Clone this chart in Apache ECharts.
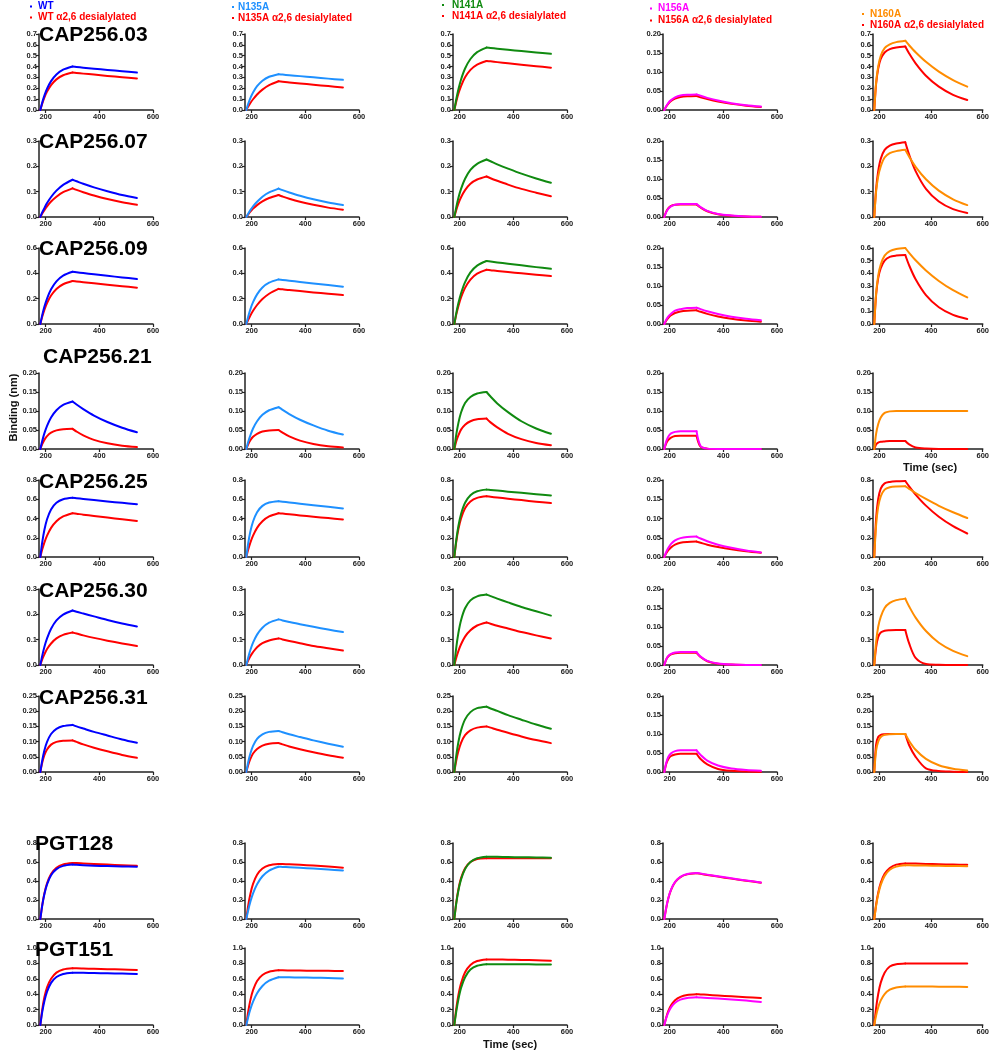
<!DOCTYPE html>
<html><head><meta charset="utf-8">
<script src="https://cdn.jsdelivr.net/npm/echarts@6/dist/echarts.min.js"></script>
<style>html,body{margin:0;padding:0;background:#fff}#c{width:992px;height:1055px}</style>
</head><body><div id="c"></div>
<script>
// ---------------- DATA ----------------
const TIMES = [180,187,195,205,220,240,265,300,315,340,380,430,485,540];
const X_TICKS = [200,400,600];
const ANTIBODIES = ['CAP256.03','CAP256.07','CAP256.09','CAP256.21','CAP256.25','CAP256.30','CAP256.31','PGT128','PGT151'];
const VARIANTS = ['WT','N135A','N141A','N156A','N160A'];
const DESIALYLATED_SUFFIX = ' \u03b12,6 desialylated';
// each antibody: [WT, WT desial, N135A, N135A desial, N141A, N141A desial, N156A, N156A desial, N160A, N160A desial]
const CAP256_03 = [
 [0,.068,.132,.196,.266,.327,.371,.400,.396,.390,.381,.369,.357,.345],
 [0,.058,.114,.169,.229,.282,.320,.345,.341,.335,.326,.314,.302,.290],
 [0,.056,.109,.161,.219,.270,.306,.330,.326,.321,.312,.301,.289,.278],
 [0,.032,.064,.099,.143,.188,.229,.265,.261,.254,.245,.232,.220,.208],
 [0,.097,.189,.281,.382,.470,.533,.575,.571,.565,.555,.543,.530,.517],
 [0,.076,.149,.221,.301,.370,.419,.452,.448,.441,.430,.417,.404,.390],
 [0,.010,.019,.026,.033,.038,.040,.041,.0373,.0319,.0248,.0180,.0128,.009],
 [0,.009,.017,.024,.030,.034,.036,.037,.0336,.0287,.0223,.0161,.0114,.008],
 [0,.25,.40,.50,.57,.605,.625,.638,.596,.532,.444,.354,.276,.215],
 [0,.24,.38,.47,.53,.56,.575,.585,.521,.430,.316,.215,.140,.092]
];
const CAP256_07 = [
 [0,.018,.035,.055,.079,.104,.127,.147,.141,.131,.117,.102,.087,.075],
 [0,.014,.027,.042,.061,.080,.098,.113,.107,.098,.085,.071,.058,.048],
 [0,.013,.027,.042,.060,.080,.097,.112,.106,.097,.084,.070,.057,.047],
 [0,.010,.021,.033,.047,.062,.075,.087,.081,.072,.060,.048,.037,.029],
 [0,.038,.075,.111,.151,.186,.210,.227,.220,.208,.191,.171,.152,.135],
 [0,.027,.053,.078,.106,.131,.148,.160,.153,.143,.128,.111,.096,.082],
 [0,.013,.022,.028,.032,.034,.034,.034,.026,.016,.008,.004,.0015,.0005],
 [0,.014,.023,.029,.032,.033,.033,.033,.025,.015,.007,.003,.001,.0004],
 [0,.10,.16,.20,.235,.252,.26,.265,.238,.198,.149,.104,.070,.047],
 [0,.11,.18,.23,.265,.282,.29,.295,.246,.181,.111,.061,.031,.016]
];
const CAP256_09 = [
 [0,.070,.136,.201,.274,.337,.382,.412,.408,.402,.392,.380,.368,.355],
 [0,.057,.112,.166,.225,.277,.314,.339,.336,.330,.321,.310,.298,.287],
 [0,.059,.116,.172,.234,.288,.326,.352,.348,.342,.332,.320,.307,.295],
 [0,.033,.067,.104,.150,.197,.239,.277,.274,.268,.260,.249,.239,.228],
 [0,.084,.164,.243,.331,.407,.461,.497,.493,.486,.476,.463,.449,.436],
 [0,.072,.141,.209,.285,.350,.397,.428,.425,.419,.411,.400,.389,.378],
 [0,.011,.020,.027,.035,.039,.042,.043,.0392,.0335,.0262,.0192,.0136,.0097],
 [0,.009,.016,.023,.029,.033,.035,.036,.0322,.0267,.0198,.0136,.009,.006],
 [0,.24,.38,.47,.54,.575,.592,.60,.562,.503,.423,.340,.267,.21],
 [0,.23,.36,.44,.50,.53,.54,.545,.463,.353,.228,.132,.072,.04]
];
const CAP256_21 = [
 [0,.021,.041,.061,.083,.102,.116,.125,.117,.105,.088,.071,.056,.044],
 [0,.013,.024,.034,.043,.049,.052,.053,.046,.036,.024,.015,.0086,.005],
 [0,.019,.036,.054,.073,.090,.102,.110,.103,.092,.077,.062,.048,.038],
 [0,.012,.023,.032,.040,.046,.049,.050,.043,.033,.022,.013,.007,.004],
 [0,.037,.068,.096,.121,.137,.146,.150,.138,.120,.097,.073,.054,.04],
 [0,.020,.036,.051,.064,.073,.078,.080,.070,.057,.040,.026,.016,.01],
 [0,.020,.033,.041,.045,.047,.047,.047,.008,.001,0,0,0,0],
 [0,.015,.024,.030,.034,.035,.035,.035,.006,.001,0,0,0,0],
 [0,.040,.065,.083,.095,.099,.100,.100,.100,.100,.100,.100,.100,.100],
 [0,.012,.017,.019,.020,.021,.021,.021,.012,.004,.001,0,0,0]
];
const CAP256_25 = [
 [0,.151,.280,.392,.494,.563,.600,.615,.611,.603,.592,.577,.563,.548],
 [0,.077,.150,.222,.303,.372,.422,.455,.450,.440,.427,.410,.392,.375],
 [0,.143,.264,.369,.466,.531,.566,.580,.575,.567,.554,.538,.522,.505],
 [0,.077,.150,.222,.303,.372,.422,.455,.451,.444,.432,.419,.404,.39],
 [0,.172,.319,.446,.563,.641,.683,.700,.696,.690,.679,.667,.653,.640],
 [0,.155,.287,.401,.507,.577,.614,.630,.625,.618,.606,.591,.575,.56],
 [0,.013,.024,.034,.043,.049,.052,.053,.048,.041,.032,.024,.017,.012],
 [0,.010,.018,.025,.032,.037,.039,.040,.037,.032,.026,.020,.015,.011],
 [0,.33,.52,.63,.70,.725,.733,.735,.708,.665,.603,.532,.465,.405],
 [0,.40,.60,.71,.765,.78,.787,.79,.734,.649,.534,.418,.320,.244]
];
const CAP256_30 = [
 [0,.036,.071,.105,.143,.176,.199,.215,.210,.203,.192,.178,.164,.152],
 [0,.022,.042,.063,.085,.105,.119,.128,.124,.117,.107,.096,.085,.075],
 [0,.030,.059,.088,.120,.147,.167,.180,.176,.170,.161,.151,.140,.13],
 [0,.018,.035,.051,.070,.086,.097,.105,.101,.095,.086,.075,.066,.057],
 [0,.068,.126,.177,.224,.255,.271,.278,.272,.262,.247,.229,.212,.195],
 [0,.028,.055,.082,.112,.137,.156,.168,.163,.155,.144,.130,.117,.105],
 [0,.015,.024,.029,.033,.034,.034,.034,.022,.011,.004,.001,0,0],
 [0,.014,.023,.028,.031,.032,.032,.032,.021,.010,.003,.001,0,0],
 [0,.09,.15,.19,.225,.245,.256,.262,.231,.187,.134,.088,.056,.035],
 [0,.07,.11,.128,.135,.137,.138,.138,.085,.028,.004,.001,0,0]
];
const CAP256_31 = [
 [0,.038,.071,.099,.125,.142,.151,.155,.150,.143,.132,.120,.107,.096],
 [0,.030,.055,.074,.090,.099,.103,.104,.099,.091,.080,.068,.056,.047],
 [0,.033,.061,.086,.109,.124,.132,.135,.131,.124,.115,.104,.093,.083],
 [0,.023,.043,.061,.076,.087,.093,.095,.091,.084,.075,.065,.055,.047],
 [0,.053,.098,.137,.173,.197,.210,.215,.209,.201,.187,.172,.156,.142],
 [0,.037,.068,.096,.121,.137,.146,.150,.146,.139,.129,.117,.105,.095],
 [0,.024,.040,.049,.055,.057,.057,.057,.045,.030,.017,.009,.005,.003],
 [0,.021,.034,.042,.046,.048,.048,.048,.034,.020,.008,.003,.001,0],
 [0,.07,.10,.115,.122,.124,.125,.125,.102,.073,.043,.022,.0105,.005],
 [0,.09,.115,.122,.124,.125,.125,.125,.088,.050,.012,.003,.001,0]
];
const PGT128 = [
 [0,.141,.261,.365,.461,.525,.559,.573,.570,.566,.561,.557,.553,.550],
 [0,.145,.268,.376,.474,.540,.575,.590,.589,.585,.579,.573,.566,.560],
 [0,.093,.181,.269,.366,.450,.510,.550,.548,.545,.539,.531,.521,.510],
 [0,.143,.264,.369,.466,.531,.566,.580,.579,.576,.570,.562,.552,.540],
 [0,.161,.298,.417,.527,.600,.639,.655,.655,.654,.652,.650,.648,.645],
 [0,.17,.31,.43,.535,.60,.632,.640,.640,.640,.640,.640,.640,.640],
 [0,.119,.221,.309,.390,.444,.473,.485,.478,.467,.449,.428,.406,.385],
 [0,.116,.218,.306,.387,.441,.470,.482,.475,.464,.446,.425,.403,.382],
 [0,.139,.257,.360,.454,.518,.551,.565,.565,.564,.562,.560,.558,.555],
 [0,.15,.275,.38,.475,.537,.572,.585,.584,.583,.580,.577,.573,.570]
];
const PGT151 = [
 [0,.167,.309,.433,.547,.623,.663,.680,.680,.678,.675,.672,.668,.662],
 [0,.20,.36,.49,.60,.68,.72,.736,.736,.734,.730,.725,.720,.714],
 [0,.105,.204,.303,.412,.507,.575,.620,.620,.619,.617,.614,.610,.605],
 [0,.175,.323,.452,.571,.650,.692,.710,.710,.709,.707,.705,.703,.700],
 [0,.17,.33,.48,.62,.72,.77,.79,.79,.79,.789,.788,.787,.785],
 [0,.21,.388,.543,.685,.780,.831,.852,.852,.851,.848,.845,.840,.835],
 [0,.089,.164,.229,.289,.330,.351,.360,.357,.352,.343,.332,.317,.300],
 [0,.098,.182,.255,.322,.366,.390,.400,.397,.392,.383,.373,.361,.350],
 [0,.123,.228,.319,.402,.458,.488,.500,.500,.500,.499,.498,.497,.495],
 [0,.22,.40,.55,.68,.76,.79,.80,.80,.80,.80,.80,.80,.80]
];
const ROW_DATA = [CAP256_03, CAP256_07, CAP256_09, CAP256_21, CAP256_25, CAP256_30, CAP256_31, PGT128, PGT151];
// y-axis max / step per row (columns WT..N160A)
const Y_MAX = [
 [0.7,0.7,0.7,0.2,0.7],[0.3,0.3,0.3,0.2,0.3],[0.6,0.6,0.6,0.2,0.6],
 [0.2,0.2,0.2,0.2,0.2],[0.8,0.8,0.8,0.2,0.8],[0.3,0.3,0.3,0.2,0.3],
 [0.25,0.25,0.25,0.2,0.25],[0.8,0.8,0.8,0.8,0.8],[1,1,1,1,1]
];
const Y_STEP = [
 [0.1,0.1,0.1,0.05,0.1],[0.1,0.1,0.1,0.05,0.1],[0.2,0.2,0.2,0.05,0.1],
 [0.05,0.05,0.05,0.05,0.05],[0.2,0.2,0.2,0.05,0.2],[0.1,0.1,0.1,0.05,0.1],
 [0.05,0.05,0.05,0.05,0.05],[0.2,0.2,0.2,0.2,0.2],[0.2,0.2,0.2,0.2,0.2]
];

// ---------------- STYLE / LAYOUT ----------------
const COLORS = ['#0000FF','#1E90FF','#108A10','#FF00FF','#FF8C00'];
const RED = '#FF0000';
const FONT = "'Liberation Sans', Arial, sans-serif";
const AXIS_COLOR = '#222';
const COL_LEFT = [39,245,453,663,873];
const PLOT_W = 114;
const ROW_TOP = [34,141,248,373,480,589,696,843,948];
const ROW_BOTTOM = [110,217,324,449,557,665,772,919,1025];
const TITLE_POS = [[39,37],[39,143.5],[39,250.5],[43,358.5],[39,483.5],[39,592.5],[39,700],[35,846],[35,951.5]];
const LEGEND_POS = [[30,38,6.5,17.5],[232,238,7,18],[442,452,5,16],[650,658,8.5,20.5],[862,870,14,25]];

const grids=[], xAxes=[], yAxes=[], series=[];
let k=0;
for(let r=0;r<9;r++){
  for(let c=0;c<5;c++){
    grids.push({left:COL_LEFT[c], top:ROW_TOP[r], width:PLOT_W, height:ROW_BOTTOM[r]-ROW_TOP[r], containLabel:false});
    const lab = {fontSize:7.5, fontWeight:'bold', color:AXIS_COLOR, fontFamily:FONT};
    xAxes.push({gridIndex:k, type:'value', min:175, max:600,
      axisLine:{show:true, onZero:false, lineStyle:{color:AXIS_COLOR, width:1.5}},
      axisTick:{show:true, customValues:X_TICKS, length:3, lineStyle:{color:AXIS_COLOR, width:1.2}},
      axisLabel:Object.assign({customValues:X_TICKS, margin:3}, lab),
      splitLine:{show:false}});
    const step = Y_STEP[r][c];
    const dec = step < 0.1 ? 2 : 1;
    yAxes.push({gridIndex:k, type:'value', min:0, max:Y_MAX[r][c], interval:step,
      axisLine:{show:true, onZero:false, lineStyle:{color:AXIS_COLOR, width:1.5}},
      axisTick:{show:true, length:3, lineStyle:{color:AXIS_COLOR, width:1.2}},
      axisLabel:Object.assign({margin:2, formatter:v=>v.toFixed(dec)}, lab),
      splitLine:{show:false}});
    const rows = ROW_DATA[r];
    const curves = [
      {name: VARIANTS[c]+DESIALYLATED_SUFFIX, vals: rows[2*c+1], color: RED},
      {name: VARIANTS[c], vals: rows[2*c], color: COLORS[c]}
    ];
    curves.forEach((cv,ci)=>{
      const pts = TIMES.map((t,i)=>[t, cv.vals[i]]);
      const split = TIMES.indexOf(300);
      [pts.slice(0,split+1), pts.slice(split)].forEach(seg=>{
        series.push({type:'line', name:cv.name, xAxisIndex:k, yAxisIndex:k, data:seg,
          symbol:'none', smooth:0.3, silent:true, animation:false, z:2+ci,
          lineStyle:{color:cv.color, width:2, cap:'round', join:'round'}, itemStyle:{color:cv.color}});
      });
    });
    k++;
  }
}

const graphics = [];
ANTIBODIES.forEach((name,r)=>{
  graphics.push({type:'text', left:TITLE_POS[r][0], top:TITLE_POS[r][1]-12, z:10,
    style:{text:name, font:"bold 21px "+FONT, fill:'#000'}});
});
VARIANTS.forEach((v,c)=>{
  const p = LEGEND_POS[c];
  [[v, COLORS[c], p[2]], [v+DESIALYLATED_SUFFIX, RED, p[3]]].forEach(([txt,col,yc])=>{
    graphics.push({type:'rect', shape:{x:p[0], y:yc-1, width:2, height:2}, style:{fill:col}});
    graphics.push({type:'text', x:p[1], y:yc, style:{text:txt, font:"bold 10px "+FONT, fill:col, verticalAlign:'middle'}});
  });
});
graphics.push({type:'text', x:13.5, y:407.5, rotation:Math.PI/2,
  style:{text:'Binding (nm)', font:"bold 11px "+FONT, fill:'#111', align:'center', verticalAlign:'middle'}});
graphics.push({type:'text', x:510, y:1044.5,
  style:{text:'Time (sec)', font:"bold 11px "+FONT, fill:'#111', align:'center', verticalAlign:'middle'}});
graphics.push({type:'text', x:930, y:468,
  style:{text:'Time (sec)', font:"bold 11px "+FONT, fill:'#111', align:'center', verticalAlign:'middle'}});

const chart = echarts.init(document.getElementById('c'), null, {renderer:'canvas'});
chart.setOption({animation:false, backgroundColor:'#fff', grid:grids, xAxis:xAxes, yAxis:yAxes, series:series, graphic:graphics});
</script></body></html>
